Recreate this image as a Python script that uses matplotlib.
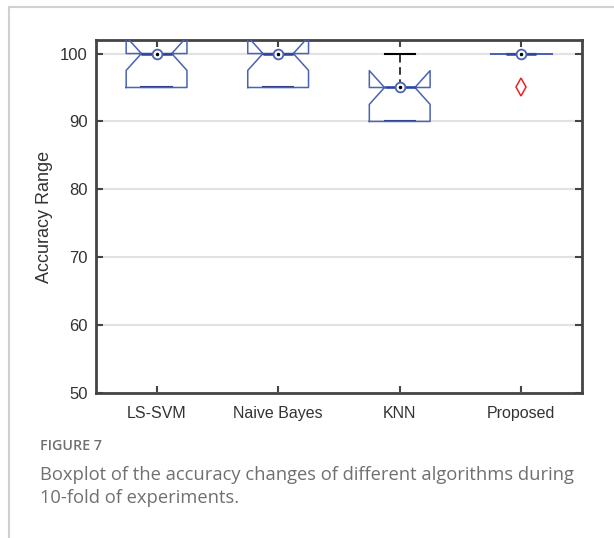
import numpy as np
import matplotlib
matplotlib.use("Agg")
import matplotlib.pyplot as plt
from matplotlib.lines import Line2D

# accuracy (%) of each fold, 10-fold cross validation
algorithms = ["LS-SVM", "Naive Bayes", "KNN", "Proposed"]
acc_lssvm = [95, 95, 95, 95, 100, 100, 100, 100, 100, 100]
acc_nb = [95, 95, 95, 95, 100, 100, 100, 100, 100, 100]
acc_knn = [90, 90, 90, 90, 95, 95, 95, 95, 100, 100]
acc_proposed = [95, 100, 100, 100, 100, 100, 100, 100, 100, 100]
yticks = [50, 60, 70, 80, 90, 100]

data = [acc_lssvm, acc_nb, acc_knn, acc_proposed]

plt.rcParams["font.family"] = ["Liberation Sans", "DejaVu Sans"]

fig = plt.figure(figsize=(6.14, 5.38), dpi=100)
ax = fig.add_axes([0.156, 0.2695, 0.792, 0.6562])

box_blue = "#4a63b3"
med_blue = "#2a45a0"

bp = ax.boxplot(data, notch=True, widths=0.5, whis=1.5,
                patch_artist=False,
                boxprops=dict(color=box_blue, linewidth=1.1),
                medianprops=dict(color=med_blue, linewidth=1.8),
                whiskerprops=dict(color="black", linewidth=1.1, linestyle=(0, (5, 3))),
                capprops=dict(color="black", linewidth=1.5),
                flierprops=dict(marker="d", markersize=9, markerfacecolor="none",
                                markeredgecolor="#ee2222", markeredgewidth=1.1))
for cap in bp["caps"][0::2]:
    cap.set_color("#26367a")
for art in bp["boxes"]:
    art.set_zorder(3)
for art in bp["medians"]:
    art.set_zorder(4)

# median markers: open circle with a dot in the middle
meds = [np.median(d) for d in data]
pos = np.arange(1, len(data) + 1)
ax.plot(pos, meds, "o", markersize=7, markerfacecolor="white",
        markeredgecolor=box_blue, markeredgewidth=1.3, zorder=5, linestyle="none")
ax.plot(pos, meds, ".", markersize=3, color="black", zorder=6, linestyle="none")

ax.set_xlim(0.5, 4.5)
ax.set_ylim(50, 102)
ax.set_yticks(yticks)
ax.set_xticks(pos)
ax.set_xticklabels(algorithms)
ax.yaxis.grid(True, color="#e2e2e2", linewidth=1.5, zorder=0)
ax.set_axisbelow(True)

for s in ax.spines.values():
    s.set_color("#444444")
    s.set_linewidth(2)
ax.tick_params(direction="in", length=5, width=1.5, color="#444444",
               top=True, right=True, labelcolor="#333333")
ax.tick_params(axis="x", pad=9, labelsize=11.5)
ax.tick_params(axis="y", pad=6, labelsize=12)

ax.set_ylabel("Accuracy Range", fontsize=13, color="#333333")
ax.yaxis.set_label_coords(-0.088, 0.5)

# caption block
fig.text(40 / 614, 1 - 450 / 538, "FIGURE 7", fontsize=10.3, color="#707070",
         family="Open Sans", fontweight="semibold", va="baseline")
fig.text(40 / 614, 1 - 480 / 538,
         "Boxplot of the accuracy changes of different algorithms during",
         fontsize=13.2, color="#707070", family="Open Sans", va="baseline")
fig.text(40 / 614, 1 - 503 / 538, "10-fold of experiments.",
         fontsize=13.2, color="#707070", family="Open Sans", va="baseline")

# panel border
fig.add_artist(Line2D([8.5 / 614, 8.5 / 614], [0, 1 - 7 / 538],
                      transform=fig.transFigure, color="#d0d0d0", linewidth=1.5))
fig.add_artist(Line2D([8.5 / 614, 1], [1 - 7 / 538, 1 - 7 / 538],
                      transform=fig.transFigure, color="#d0d0d0", linewidth=1.5))

fig.savefig("out.png", dpi=100)
